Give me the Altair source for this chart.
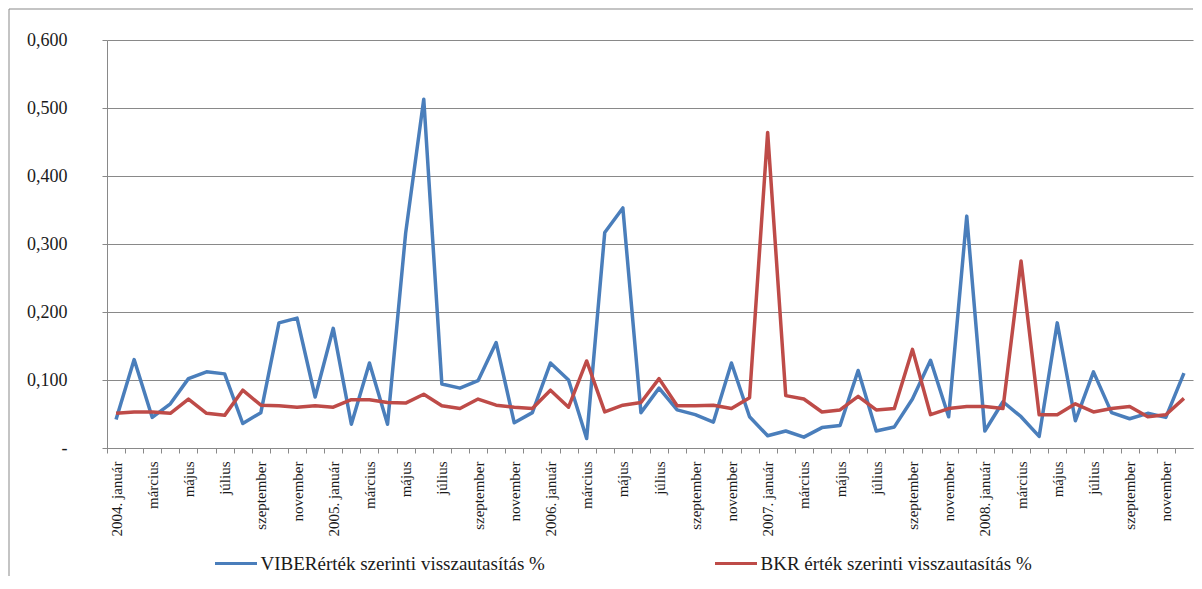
import json
import altair as alt
import pandas as pd

YEARS = [2004, 2005, 2006, 2007, 2008]
MONTHS = ["január", "február", "március", "április", "május", "június",
          "július", "augusztus", "szeptember", "október", "november", "december"]

VIBER = [0.042, 0.130, 0.045, 0.065, 0.102, 0.112, 0.109, 0.036, 0.052, 0.184, 0.191, 0.075,
         0.176, 0.035, 0.125, 0.035, 0.316, 0.513, 0.094, 0.088, 0.099, 0.155, 0.037, 0.052,
         0.125, 0.100, 0.014, 0.317, 0.353, 0.052, 0.088, 0.056, 0.049, 0.038, 0.125, 0.046,
         0.018, 0.025, 0.016, 0.030, 0.033, 0.114, 0.025, 0.031, 0.072, 0.129, 0.046, 0.341,
         0.025, 0.068, 0.046, 0.017, 0.184, 0.040, 0.112, 0.052, 0.043, 0.051, 0.045, 0.110]

BKR = [0.051, 0.053, 0.053, 0.051, 0.072, 0.051, 0.048, 0.085, 0.063, 0.062, 0.060, 0.062,
       0.060, 0.071, 0.071, 0.067, 0.066, 0.079, 0.062, 0.058, 0.072, 0.063, 0.060, 0.058,
       0.085, 0.060, 0.128, 0.053, 0.063, 0.067, 0.102, 0.062, 0.062, 0.063, 0.058, 0.074,
       0.464, 0.077, 0.072, 0.053, 0.056, 0.076, 0.056, 0.058, 0.145, 0.049, 0.058, 0.061,
       0.061, 0.058, 0.275, 0.049, 0.049, 0.065, 0.053, 0.058, 0.061, 0.046, 0.049, 0.073]

SERIES = ["VIBERérték szerinti visszautasítás %", "BKR érték szerinti visszautasítás %"]
COLORS = ["#4A7EBB", "#BE4B48"]
Y_TICKS = [0.0, 0.1, 0.2, 0.3, 0.4, 0.5, 0.6]

# tick labels: every other month shown
tick_labels = []
for y in YEARS:
    for mi, m in enumerate(MONTHS):
        if mi == 0:
            tick_labels.append(f"{y}. január")
        elif mi % 2 == 0:
            tick_labels.append(m)
        else:
            tick_labels.append("")

rows = []
for s, vals in zip(SERIES, [VIBER, BKR]):
    for i, v in enumerate(vals):
        rows.append({"idx": i, "value": v, "series": s})
df = pd.DataFrame(rows)

FONT = "Times New Roman, Liberation Serif, DejaVu Serif, serif"
W, H = 1086, 408
GRAY = "#898989"
TXT = "#1a1a1a"
half = W / len(VIBER) / 2

x_label_expr = json.dumps(tick_labels, ensure_ascii=False) + "[datum.value]"
y_label_expr = ("datum.value == 0 ? '-\u00a0\u00a0' : "
                "replace(format(datum.value, '.3f'), '.', ',')")

x_enc = alt.X("idx:O", scale=alt.Scale(type="point", padding=0.5),
              axis=alt.Axis(title=None, labelExpr=x_label_expr, labelAngle=270,
                            labelAlign="right", labelBaseline="middle",
                            labelFont=FONT, labelFontSize=15, labelColor=TXT,
                            labelPadding=8, tickSize=5, tickColor=GRAY,
                            domainColor=GRAY, tickOffset=-half, labelOffset=half,
                            grid=False, labelOverlap=False))
y_enc = alt.Y("value:Q", scale=alt.Scale(domain=[0, 0.6], nice=False, zero=True),
              axis=alt.Axis(title=None, values=Y_TICKS, labelExpr=y_label_expr,
                            labelFont=FONT, labelFontSize=18, labelColor=TXT,
                            labelPadding=35, tickSize=5, tickColor=GRAY,
                            domainColor=GRAY, grid=True, gridColor=GRAY,
                            gridWidth=1))

def series_layer(k, lx):
    return alt.Chart(df).transform_filter(
        alt.datum.series == SERIES[k]
    ).mark_line(strokeWidth=3.5, strokeJoin="round").encode(
        x=x_enc, y=y_enc,
        color=alt.Color("series:N",
                        scale=alt.Scale(domain=[SERIES[k]], range=[COLORS[k]]),
                        legend=alt.Legend(orient="none", legendX=lx, legendY=501,
                                          title=None, symbolType="stroke",
                                          symbolSize=1764, symbolStrokeWidth=3,
                                          labelFont=FONT, labelFontSize=19,
                                          labelColor=TXT, labelLimit=0,
                                          labelOffset=2, padding=0)),
    )

blue = series_layer(0, 106.5)
red = series_layer(1, 606.5)

one = alt.Data(values=[{"a": 1}])
left_border = alt.Chart(one).mark_rule(color=GRAY, strokeWidth=1).encode(
    x=alt.value(-98), y=alt.value(-31), y2=alt.value(536))
top_border = alt.Chart(one).mark_rule(color=GRAY, strokeWidth=1).encode(
    x=alt.value(-98), x2=alt.value(W), y=alt.value(-31))

chart = alt.layer(left_border, top_border, blue, red).resolve_scale(
    color="independent"
).properties(
    width=W, height=H, padding=0, background="white"
).configure_view(stroke=None)

chart.save("out.html", embed_options={"renderer": "svg", "actions": False})
